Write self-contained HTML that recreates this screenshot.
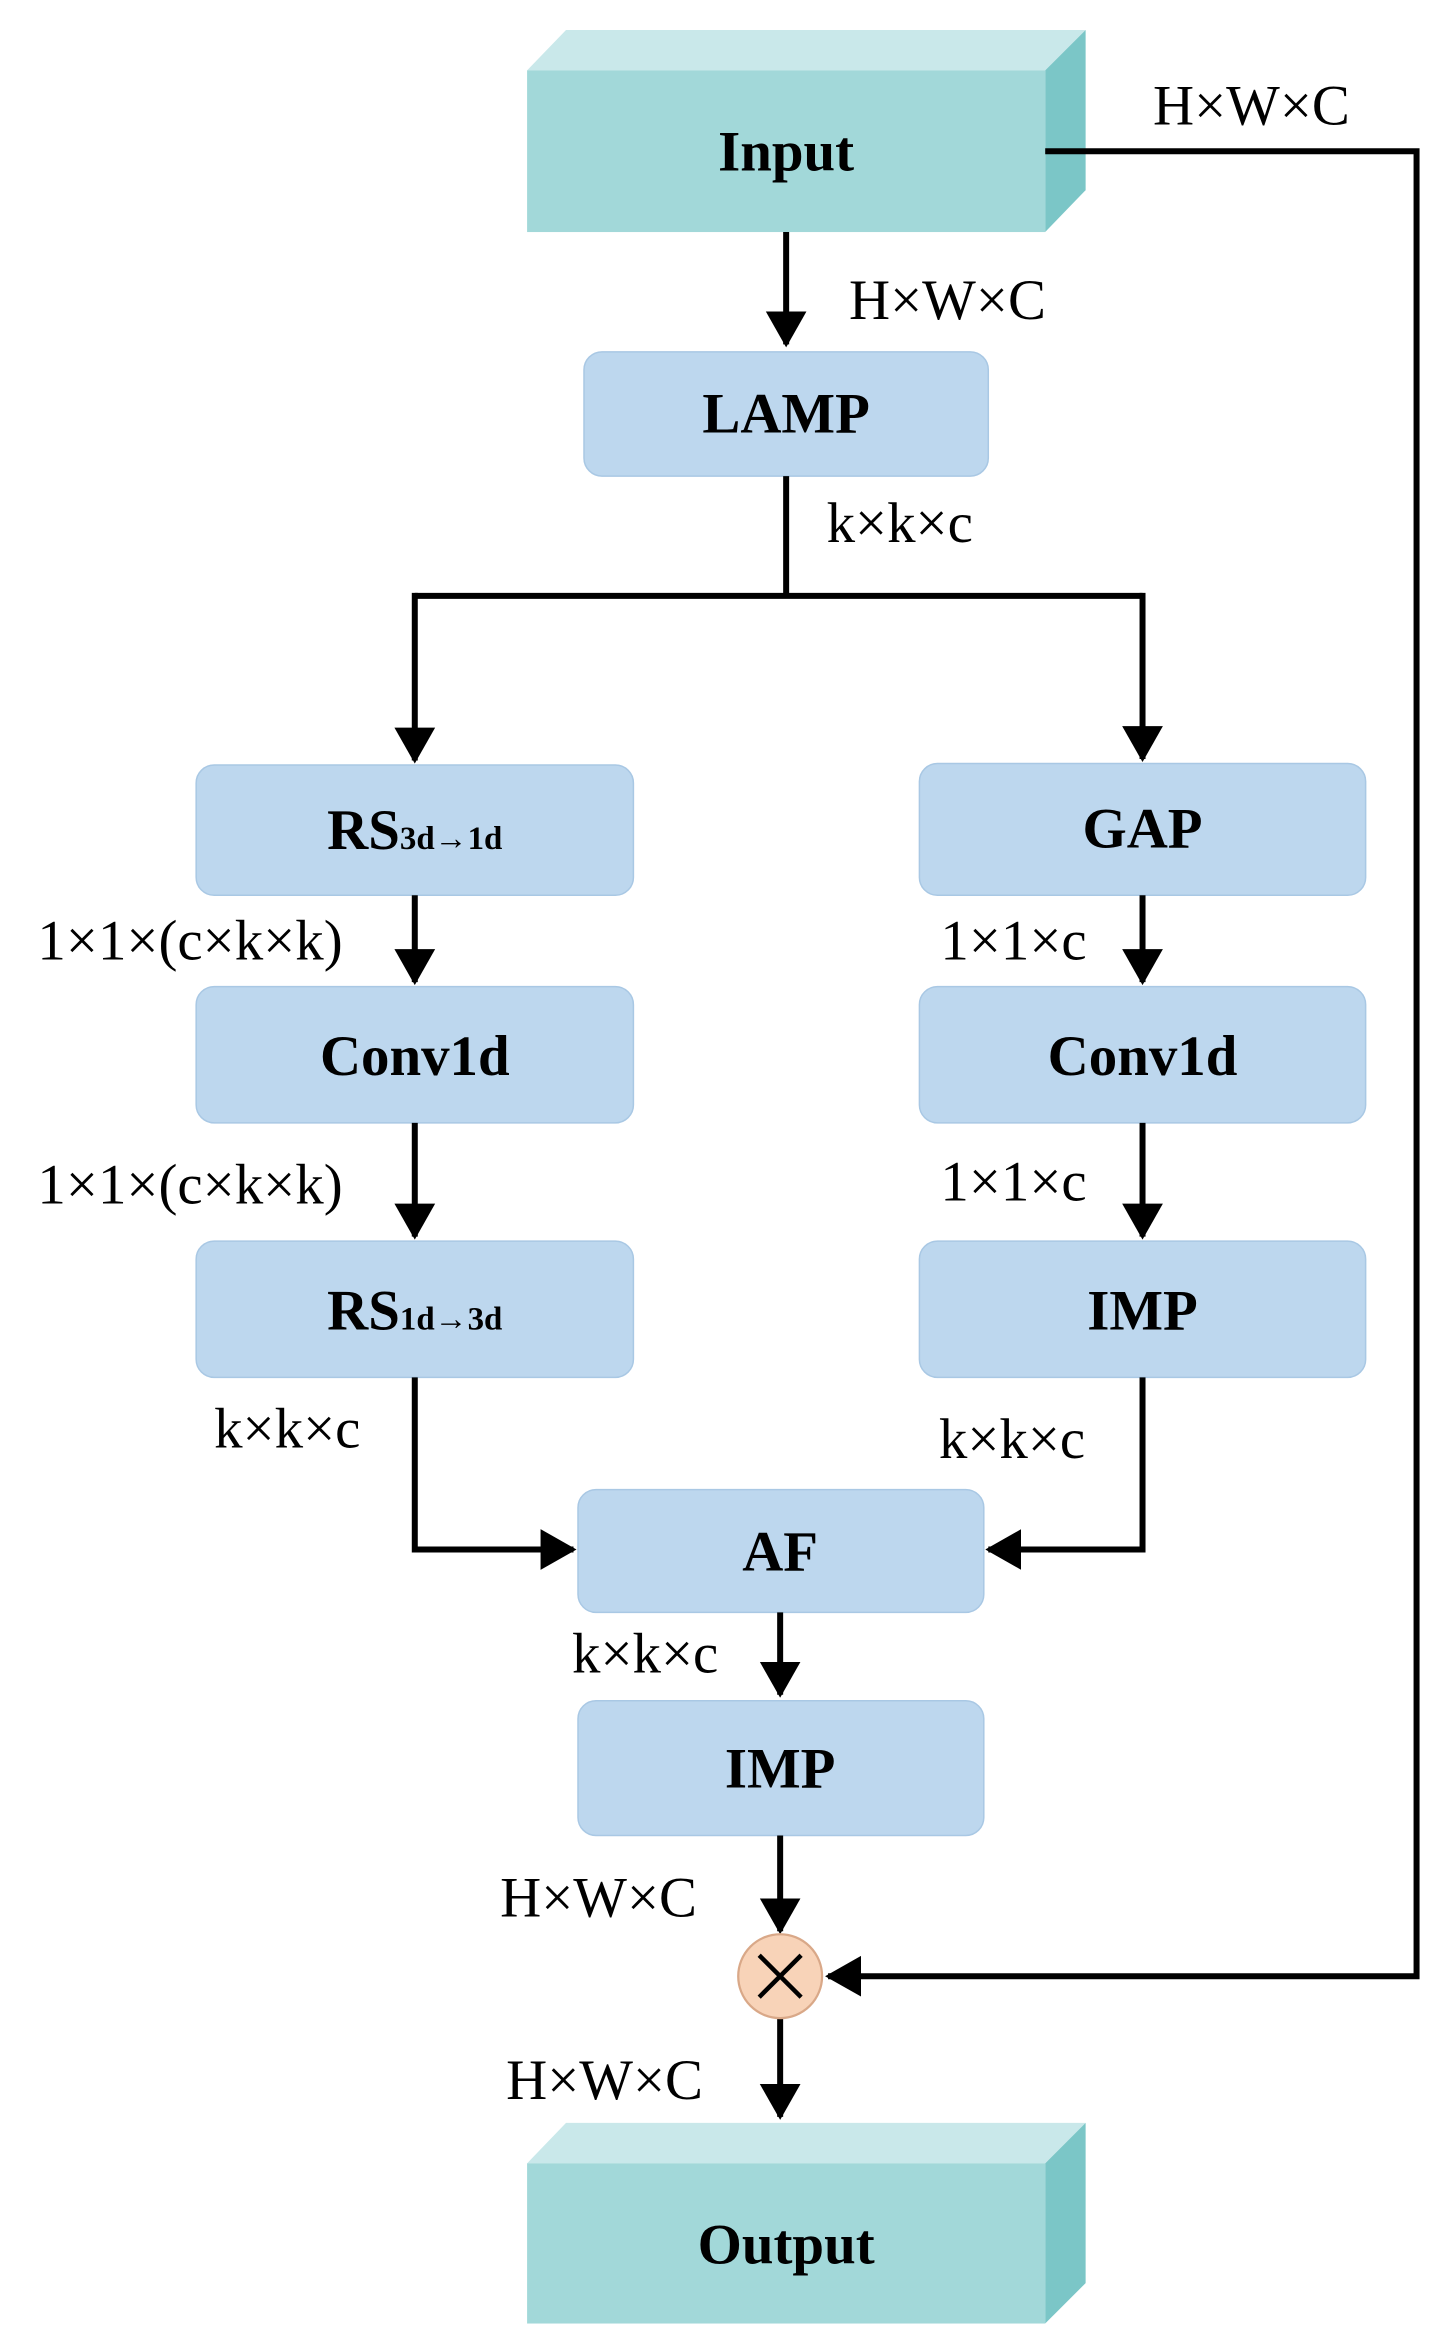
<!DOCTYPE html>
<html><head><meta charset="utf-8"><style>html,body{margin:0;padding:0;background:#fff}svg{display:block}</style></head>
<body>
<svg width="1448" height="2340" viewBox="0 0 967 1563" preserveAspectRatio="none" xmlns="http://www.w3.org/2000/svg">
<defs>
<marker id="a" markerWidth="6" markerHeight="8" refX="5.5" refY="4" orient="auto" markerUnits="strokeWidth"><path d="M0,0.6 L6,4 L0,7.4 z" fill="#000"/></marker>
</defs>
<g font-family="'Liberation Serif',serif">
<!-- Input -->
<polygon points="352,47 378,20 725,20 698,47" fill="#c9e8ea"/>
<polygon points="698,47 725,20 725,127 698,155" fill="#7bc6c7"/>
<rect x="352" y="47" width="346" height="108" fill="#a2d8d9"/>
<text x="525" y="114" font-size="38" font-weight="bold" text-anchor="middle">Input</text>
<!-- Output -->
<polygon points="352,1445 378,1418 725,1418 698,1445" fill="#c9e8ea"/>
<polygon points="698,1445 725,1418 725,1525 698,1552" fill="#7bc6c7"/>
<rect x="352" y="1445" width="346" height="107" fill="#a2d8d9"/>
<text x="525" y="1512" font-size="38" font-weight="bold" text-anchor="middle">Output</text>
<!-- boxes -->
<g fill="#bdd7ee" stroke="#a9c8e4" stroke-width="1">
<rect x="390" y="235" width="270" height="83" rx="12"/>
<rect x="131" y="511" width="292" height="87" rx="12"/>
<rect x="614" y="510" width="298" height="88" rx="12"/>
<rect x="131" y="659" width="292" height="91" rx="12"/>
<rect x="614" y="659" width="298" height="91" rx="12"/>
<rect x="131" y="829" width="292" height="91" rx="12"/>
<rect x="614" y="829" width="298" height="91" rx="12"/>
<rect x="386" y="995" width="271" height="82" rx="12"/>
<rect x="386" y="1136" width="271" height="90" rx="12"/>
</g>
<g font-size="38" font-weight="bold" text-anchor="middle">
<text x="525" y="289">LAMP</text>
<text x="277" y="567">RS<tspan font-size="22">3d→1d</tspan></text>
<text x="763" y="566">GAP</text>
<text x="277" y="718">Conv1d</text>
<text x="763" y="718">Conv1d</text>
<text x="277" y="888">RS<tspan font-size="22">1d→3d</tspan></text>
<text x="763" y="888">IMP</text>
<text x="521" y="1049">AF</text>
<text x="521" y="1194">IMP</text>
</g>
<!-- connectors -->
<g stroke="#000" stroke-width="4" fill="none">
<line x1="525" y1="155" x2="525" y2="230" marker-end="url(#a)"/>
<polyline points="698,101 946,101 946,1320 553,1320" marker-end="url(#a)"/>
<line x1="525" y1="318" x2="525" y2="398"/>
<line x1="277" y1="398" x2="763" y2="398"/>
<line x1="277" y1="396" x2="277" y2="508" marker-end="url(#a)"/>
<line x1="763" y1="396" x2="763" y2="507" marker-end="url(#a)"/>
<line x1="277" y1="598" x2="277" y2="656" marker-end="url(#a)"/>
<line x1="763" y1="598" x2="763" y2="656" marker-end="url(#a)"/>
<line x1="277" y1="750" x2="277" y2="826" marker-end="url(#a)"/>
<line x1="763" y1="750" x2="763" y2="826" marker-end="url(#a)"/>
<polyline points="277,920 277,1035 383,1035" marker-end="url(#a)"/>
<polyline points="763,920 763,1035 660,1035" marker-end="url(#a)"/>
<line x1="521" y1="1077" x2="521" y2="1132" marker-end="url(#a)"/>
<line x1="521" y1="1226" x2="521" y2="1290" marker-end="url(#a)"/>
<line x1="521" y1="1348" x2="521" y2="1414" marker-end="url(#a)"/>
</g>
<circle cx="521" cy="1320" r="28" fill="#f8d3b8" stroke="#d9a888" stroke-width="1.5"/>
<g stroke="#000" stroke-width="3"><line x1="507" y1="1306" x2="535" y2="1334"/><line x1="535" y1="1306" x2="507" y2="1334"/></g>
<!-- labels -->
<g font-size="38">
<text x="770" y="83">H×W×C</text>
<text x="567" y="213">H×W×C</text>
<text x="552" y="362">k×k×c</text>
<text x="25" y="641">1×1×(c×k×k)</text>
<text x="628" y="641">1×1×c</text>
<text x="25" y="804">1×1×(c×k×k)</text>
<text x="628" y="802">1×1×c</text>
<text x="143" y="967">k×k×c</text>
<text x="627" y="974">k×k×c</text>
<text x="382" y="1117">k×k×c</text>
<text x="334" y="1280">H×W×C</text>
<text x="338" y="1402">H×W×C</text>
</g>
</g>
</svg>
</body></html>
